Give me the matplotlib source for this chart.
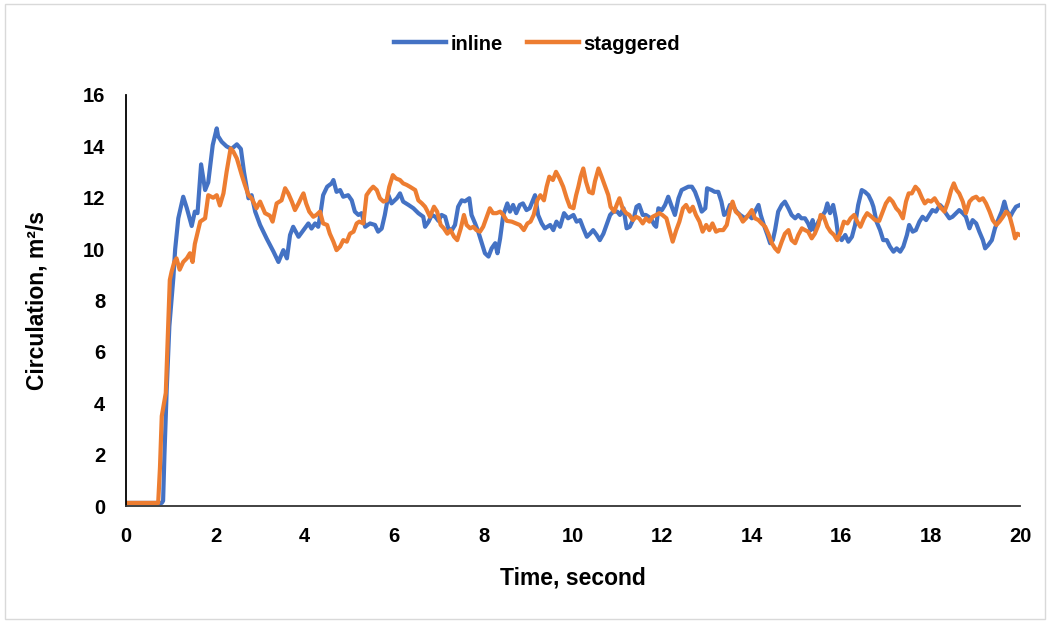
import matplotlib
matplotlib.use("Agg")
import matplotlib.pyplot as plt
from matplotlib.patches import Rectangle

inline_t = [0, 0.5, 0.8, 0.83, 0.86, 0.91, 0.97, 1.06, 1.10, 1.17, 1.28, 1.36, 1.47, 1.54, 1.60, 1.68, 1.77, 1.84, 1.94, 2.03,
            2.06, 2.14, 2.25, 2.36, 2.48, 2.57, 2.64, 2.74, 2.81, 2.89, 3.00, 3.15, 3.30, 3.41, 3.52, 3.60, 3.67, 3.74, 3.86, 3.97,
            4.08, 4.15, 4.23, 4.30, 4.34, 4.41, 4.50, 4.60, 4.64, 4.71, 4.79, 4.86, 4.97, 5.05, 5.12, 5.20, 5.27, 5.35, 5.46, 5.57,
            5.64, 5.72, 5.79, 5.87, 5.94, 6.06, 6.13, 6.20, 6.32, 6.43, 6.54, 6.65, 6.69, 6.77, 6.84, 6.92, 6.99, 7.06, 7.14, 7.21,
            7.29, 7.36, 7.43, 7.51, 7.58, 7.68, 7.73, 7.81, 7.88, 7.96, 8.03, 8.11, 8.18, 8.26, 8.31, 8.37, 8.44, 8.53, 8.59, 8.66,
            8.73, 8.81, 8.88, 8.96, 9.03, 9.09, 9.15, 9.22, 9.30, 9.37, 9.49, 9.56, 9.63, 9.71, 9.80, 9.89, 10.01, 10.08, 10.16, 10.23,
            10.31, 10.38, 10.45, 10.53, 10.60, 10.68, 10.75, 10.83, 10.90, 10.99, 11.05, 11.13, 11.20, 11.27, 11.36, 11.42, 11.48, 11.56, 11.63, 11.74,
            11.82, 11.86, 11.91, 11.99, 12.06, 12.13, 12.21, 12.28, 12.36, 12.43, 12.51, 12.58, 12.66, 12.73, 12.81, 12.88, 12.96, 13.00, 13.10, 13.17,
            13.25, 13.32, 13.38, 13.44, 13.51, 13.59, 13.66, 13.74, 13.85, 13.93, 14.00, 14.07, 14.15, 14.20, 14.27, 14.35, 14.41, 14.47, 14.52, 14.59,
            14.67, 14.74, 14.82, 14.89, 14.97, 15.04, 15.11, 15.19, 15.26, 15.32, 15.36, 15.41, 15.49, 15.56, 15.64, 15.69, 15.75, 15.82, 15.88, 15.93,
            16.01, 16.09, 16.16, 16.24, 16.31, 16.38, 16.46, 16.53, 16.61, 16.68, 16.72, 16.79, 16.87, 16.94, 17.02, 17.09, 17.17, 17.24, 17.32, 17.39,
            17.47, 17.52, 17.60, 17.67, 17.75, 17.82, 17.90, 17.97, 18.04, 18.12, 18.21, 18.28, 18.34, 18.42, 18.49, 18.57, 18.64, 18.72, 18.79, 18.87,
            18.94, 19.02, 19.09, 19.17, 19.22, 19.29, 19.37, 19.44, 19.51, 19.59, 19.65, 19.70, 19.78, 19.84, 19.91, 20.0]
inline_v = [0.12, 0.12, 0.12, 0.2, 2.0, 4.5, 7.0, 8.9, 10.0, 11.2, 12.04, 11.6, 10.9, 11.46, 11.4, 13.3, 12.3, 12.6, 14.05, 14.7,
            14.4, 14.18, 14.0, 13.9, 14.08, 13.9, 13.0, 11.98, 12.1, 11.46, 10.94, 10.4, 9.9, 9.5, 9.96, 9.64, 10.55, 10.87, 10.48, 10.74,
            11.0, 10.8, 11.0, 10.87, 11.26, 12.1, 12.43, 12.56, 12.69, 12.23, 12.3, 12.04, 12.1, 11.9, 11.46, 11.33, 11.4, 10.87, 11.0, 10.94,
            10.68, 10.8, 11.33, 12.1, 11.78, 11.98, 12.17, 11.85, 11.72, 11.59, 11.4, 11.26, 10.87, 11.07, 11.33, 11.26, 11.1, 11.33, 11.26, 10.81,
            10.74, 10.94, 11.65, 11.9, 11.86, 11.98, 11.33, 11.0, 10.68, 10.23, 9.84, 9.71, 10.03, 10.23, 9.84, 10.42, 11.33, 11.78, 11.46, 11.72,
            11.4, 11.72, 11.78, 11.52, 11.59, 11.85, 12.1, 11.33, 11.0, 10.81, 10.94, 10.74, 11.07, 10.87, 11.4, 11.2, 11.33, 11.07, 11.13, 10.81,
            10.48, 10.6, 10.74, 10.55, 10.35, 10.6, 10.94, 11.33, 11.46, 11.46, 11.33, 11.59, 10.81, 10.87, 11.2, 11.65, 11.72, 11.33, 11.33, 11.2,
            10.94, 10.87, 11.59, 11.52, 11.72, 12.04, 11.65, 11.33, 11.98, 12.3, 12.37, 12.43, 12.43, 12.23, 11.85, 11.46, 11.59, 12.37, 12.3, 12.23,
            12.23, 11.85, 11.33, 11.4, 11.72, 11.65, 11.46, 11.33, 11.2, 11.33, 11.2, 11.46, 11.72, 11.33, 10.94, 10.55, 10.23, 10.35, 10.74, 11.46,
            11.72, 11.85, 11.59, 11.33, 11.2, 11.33, 11.2, 11.2, 11.0, 10.74, 11.13, 10.74, 11.07, 11.26, 11.46, 11.78, 11.4, 11.72, 11.2, 10.55,
            10.35, 10.55, 10.29, 10.48, 10.94, 11.72, 12.3, 12.23, 12.1, 11.85, 11.65, 11.07, 10.74, 10.35, 10.35, 10.1, 9.9, 10.03, 9.9, 10.1,
            10.55, 10.94, 10.68, 10.74, 11.07, 11.26, 11.13, 11.33, 11.52, 11.46, 11.72, 11.59, 11.4, 11.2, 11.26, 11.4, 11.52, 11.4, 11.26, 10.81,
            11.13, 11.0, 10.68, 10.35, 10.03, 10.16, 10.35, 10.81, 11.13, 11.46, 11.85, 11.52, 11.26, 11.46, 11.65, 11.72]

staggered_t = [0, 0.5, 0.72, 0.76, 0.80, 0.89, 0.98, 1.02, 1.08, 1.13, 1.20, 1.28, 1.36, 1.43, 1.49, 1.54, 1.66, 1.77, 1.84, 1.95,
               2.03, 2.10, 2.18, 2.25, 2.34, 2.40, 2.48, 2.59, 2.66, 2.74, 2.81, 2.92, 3.00, 3.11, 3.22, 3.28, 3.37, 3.48, 3.56, 3.63,
               3.71, 3.78, 3.86, 3.93, 3.97, 4.03, 4.10, 4.19, 4.26, 4.34, 4.41, 4.50, 4.56, 4.64, 4.71, 4.79, 4.86, 4.94, 5.01, 5.09,
               5.16, 5.22, 5.31, 5.38, 5.46, 5.53, 5.61, 5.68, 5.76, 5.83, 5.89, 5.97, 6.04, 6.13, 6.20, 6.28, 6.35, 6.47, 6.54, 6.62,
               6.69, 6.73, 6.80, 6.89, 6.96, 7.04, 7.11, 7.19, 7.26, 7.34, 7.41, 7.49, 7.56, 7.62, 7.70, 7.77, 7.84, 7.92, 7.99, 8.07,
               8.14, 8.21, 8.29, 8.37, 8.44, 8.52, 8.63, 8.73, 8.81, 8.90, 8.98, 9.05, 9.12, 9.20, 9.27, 9.35, 9.41, 9.47, 9.55, 9.62,
               9.70, 9.78, 9.86, 9.93, 10.01, 10.07, 10.12, 10.17, 10.23, 10.29, 10.36, 10.44, 10.49, 10.57, 10.64, 10.72, 10.79, 10.84, 10.92, 10.99,
               11.04, 11.11, 11.19, 11.26, 11.34, 11.41, 11.48, 11.56, 11.63, 11.71, 11.78, 11.86, 11.93, 12.00, 12.09, 12.16, 12.23, 12.31, 12.38, 12.46,
               12.53, 12.61, 12.68, 12.75, 12.83, 12.90, 12.98, 13.05, 13.12, 13.20, 13.27, 13.36, 13.44, 13.51, 13.57, 13.64, 13.72, 13.80, 13.87, 13.95,
               14.00, 14.07, 14.15, 14.22, 14.30, 14.37, 14.45, 14.52, 14.59, 14.67, 14.74, 14.82, 14.89, 14.97, 15.04, 15.12, 15.19, 15.26, 15.34, 15.41,
               15.49, 15.54, 15.61, 15.69, 15.76, 15.84, 15.91, 15.99, 16.06, 16.14, 16.21, 16.29, 16.36, 16.43, 16.51, 16.58, 16.68, 16.76, 16.85, 16.93,
               17.00, 17.08, 17.15, 17.23, 17.30, 17.38, 17.45, 17.51, 17.58, 17.66, 17.73, 17.81, 17.87, 17.94, 18.01, 18.09, 18.16, 18.24, 18.31, 18.39,
               18.46, 18.52, 18.58, 18.64, 18.72, 18.79, 18.87, 18.94, 19.02, 19.09, 19.17, 19.24, 19.32, 19.39, 19.47, 19.54, 19.62, 19.69, 19.76, 19.84,
               19.89, 19.94, 20.0]
staggered_v = [0.12, 0.12, 0.12, 1.5, 3.5, 4.4, 8.8, 9.12, 9.5, 9.64, 9.2, 9.5, 9.64, 9.84, 9.5, 10.2, 11.07, 11.2, 12.1, 12.0,
               12.1, 11.7, 12.17, 13.0, 13.92, 13.8, 13.53, 12.88, 12.5, 12.1, 11.98, 11.59, 11.85, 11.4, 11.3, 11.07, 11.78, 11.9, 12.37, 12.17,
               11.85, 11.52, 11.78, 12.04, 12.17, 11.78, 11.46, 11.26, 11.33, 11.46, 11.0, 10.94, 10.6, 10.29, 9.96, 10.1, 10.35, 10.29, 10.6, 10.68,
               11.0, 11.07, 11.0, 12.1, 12.3, 12.43, 12.3, 11.98, 11.85, 11.9, 12.43, 12.88, 12.75, 12.69, 12.56, 12.5, 12.43, 12.3, 11.9, 11.78,
               11.65, 11.52, 11.26, 11.65, 11.46, 10.94, 10.81, 10.6, 10.74, 10.48, 10.35, 10.81, 11.33, 10.94, 10.81, 10.87, 10.74, 10.68, 10.87, 11.26,
               11.59, 11.4, 11.4, 11.46, 11.33, 11.1, 11.07, 11.0, 10.94, 10.74, 11.0, 11.07, 11.33, 11.9, 12.1, 11.9, 12.43, 12.82, 12.69, 13.01,
               12.75, 12.43, 11.98, 11.65, 11.59, 12.1, 12.43, 12.82, 13.14, 12.63, 12.23, 12.17, 12.63, 13.14, 12.82, 12.43, 12.1, 11.65, 11.46, 11.78,
               11.98, 11.59, 11.4, 11.33, 11.13, 11.26, 11.2, 11.0, 11.2, 11.07, 11.26, 11.33, 11.4, 11.33, 11.2, 10.74, 10.29, 10.74, 11.07, 11.59,
               11.72, 11.46, 11.65, 11.33, 11.07, 10.68, 10.94, 10.74, 11.0, 10.68, 10.74, 10.74, 10.94, 11.52, 11.85, 11.46, 11.33, 11.07, 11.2, 11.4,
               11.52, 11.2, 11.13, 11.0, 10.87, 10.6, 10.23, 10.03, 9.9, 10.29, 10.6, 10.74, 10.35, 10.23, 10.55, 10.81, 10.74, 10.68, 10.42, 10.6,
               10.94, 11.33, 11.26, 10.87, 10.68, 10.55, 10.35, 10.68, 11.07, 11.0, 11.2, 11.33, 11.07, 10.87, 11.2, 11.4, 11.26, 11.13, 11.1, 11.46,
               11.78, 11.98, 11.85, 11.59, 11.46, 11.2, 11.85, 12.17, 12.17, 12.43, 12.3, 11.98, 11.78, 11.9, 11.85, 11.98, 11.78, 11.59, 11.46, 11.85,
               12.3, 12.56, 12.3, 12.17, 11.85, 11.4, 11.85, 11.98, 12.04, 11.9, 11.98, 11.78, 11.46, 11.13, 10.94, 11.07, 11.26, 11.46, 11.33, 10.81,
               10.42, 10.6, 10.55]

x_ticks = list(range(0, 21, 2))
y_ticks = list(range(0, 17, 2))

FONT = ["Liberation Sans", "DejaVu Sans"]
plt.rcParams["font.family"] = FONT
plt.rcParams["font.weight"] = "bold"

fig = plt.figure(figsize=(10.5, 6.22), dpi=100)
fig.patches.append(Rectangle((5 / 1050, 3 / 622), 1040 / 1050, 615 / 622, transform=fig.transFigure,
                             fill=False, edgecolor="#D9D9D9", linewidth=1.0))
ax = fig.add_axes([126 / 1050, 1 - 506 / 622, 894 / 1050, 411 / 622])

ax.plot(inline_t, inline_v, color="#4472C4", linewidth=3.0, label="inline", solid_joinstyle="round")
ax.plot(staggered_t, staggered_v, color="#ED7D31", linewidth=3.0, label="staggered", solid_joinstyle="round")

ax.set_xlim(0, 20)
ax.set_ylim(0, 16)
ax.set_xticks(x_ticks)
ax.set_yticks(y_ticks)
ax.tick_params(axis="both", length=0, labelsize=14.5)
ax.tick_params(axis="x", pad=15)
ax.tick_params(axis="y", pad=15)
for lbl in ax.get_xticklabels() + ax.get_yticklabels():
    lbl.set_fontweight("bold")

for s in ["top", "right"]:
    ax.spines[s].set_visible(False)
ax.spines["left"].set_linewidth(1.3)
ax.spines["bottom"].set_linewidth(1.3)
ax.spines["left"].set_color("black")
ax.spines["bottom"].set_color("#333333")

ax.set_xlabel("Time, second", fontsize=16.5, fontweight="bold", labelpad=15)
ax.set_ylabel("Circulation, m²/s", fontsize=16.5, fontweight="bold", labelpad=25)

leg = fig.legend(loc="center", bbox_to_anchor=(537 / 1050, 1 - 44 / 622), ncol=2, frameon=False,
                 fontsize=14.5, handlelength=2.6, handletextpad=0.2, columnspacing=1.2)
for t in leg.get_texts():
    t.set_fontweight("bold")
for l in leg.get_lines():
    l.set_linewidth(3.2)

fig.savefig("out.png", dpi=100)
